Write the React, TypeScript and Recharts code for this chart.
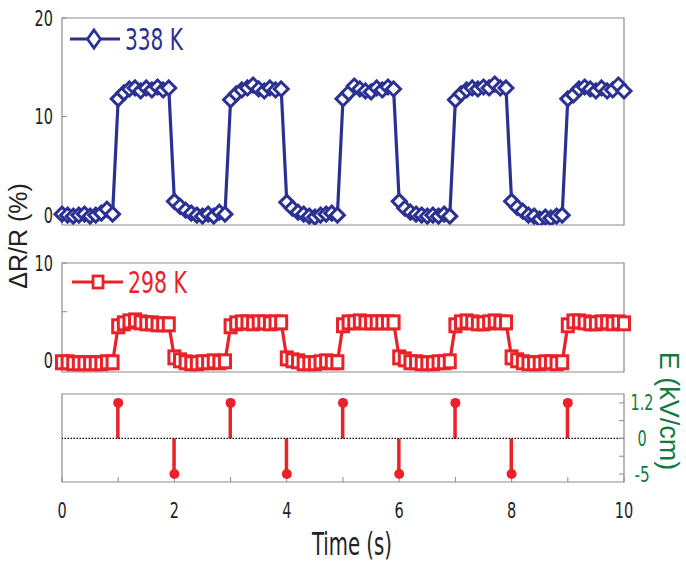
import React from 'react';
import {
  ComposedChart,
  Line,
  Bar,
  XAxis,
  YAxis,
  ReferenceArea,
  ReferenceLine,
  Legend,
} from 'recharts';

// ---------------- data ----------------
const timeS = [
  0, 0.1, 0.2, 0.3, 0.4, 0.5, 0.6, 0.7, 0.8, 0.9,
  1, 1.1, 1.2, 1.3, 1.4, 1.5, 1.6, 1.7, 1.8, 1.9,
  2, 2.1, 2.2, 2.3, 2.4, 2.5, 2.6, 2.7, 2.8, 2.9,
  3, 3.1, 3.2, 3.3, 3.4, 3.5, 3.6, 3.7, 3.8, 3.9,
  4, 4.1, 4.2, 4.3, 4.4, 4.5, 4.6, 4.7, 4.8, 4.9,
  5, 5.1, 5.2, 5.3, 5.4, 5.5, 5.6, 5.7, 5.8, 5.9,
  6, 6.1, 6.2, 6.3, 6.4, 6.5, 6.6, 6.7, 6.8, 6.9,
  7, 7.1, 7.2, 7.3, 7.4, 7.5, 7.6, 7.7, 7.8, 7.9,
  8, 8.1, 8.2, 8.3, 8.4, 8.5, 8.6, 8.7, 8.8, 8.9,
  9, 9.1, 9.2, 9.3, 9.4, 9.5, 9.6, 9.7, 9.8, 9.9, 10,
];

const dR338K = [
  0.1, 0.0, -0.1, 0.0, 0.1, -0.1, 0.0, 0.2, 0.6, 0.1,
  11.8, 12.4, 12.8, 12.9, 12.6, 12.9, 12.7, 13.0, 12.7, 12.9,
  1.4, 0.9, 0.5, 0.2, 0.0, -0.1, 0.1, -0.1, 0.3, 0.1,
  11.7, 12.3, 12.7, 12.9, 13.2, 12.8, 12.6, 12.9, 12.7, 12.8,
  1.3, 0.7, 0.3, 0.1, -0.1, -0.2, 0.0, 0.1, 0.2, 0.0,
  11.8, 12.4, 13.1, 12.8, 12.6, 12.5, 12.9, 12.7, 13.0, 12.8,
  1.4, 0.7, 0.3, 0.1, 0.0, -0.1, 0.0, -0.1, 0.1, -0.1,
  11.7, 12.3, 12.7, 12.9, 12.8, 13.0, 12.9, 13.3, 12.9, 12.9,
  1.4, 0.8, 0.4, 0.0, -0.1, -0.4, -0.2, -0.3, -0.1, 0.0,
  11.8, 12.2, 12.8, 13.0, 12.8, 12.6, 12.9, 12.6, 12.7, 13.2, 12.6,
];

const dR298K = [
  -0.2, -0.2, -0.3, -0.3, -0.3, -0.3, -0.3, -0.3, -0.2, -0.2,
  3.5, 3.8, 4.0, 4.1, 3.9, 3.8, 3.8, 3.7, 3.7, 3.7,
  0.3, 0.0, -0.2, -0.3, -0.3, -0.2, -0.2, -0.1, -0.2, -0.1,
  3.5, 3.8, 3.9, 3.9, 3.8, 3.9, 3.9, 3.8, 3.9, 3.9,
  0.2, 0.0, -0.1, -0.3, -0.3, -0.3, -0.2, -0.1, -0.2, -0.2,
  3.6, 3.9, 3.9, 4.0, 3.9, 3.9, 3.9, 3.9, 3.9, 3.9,
  0.3, 0.1, -0.2, -0.2, -0.3, -0.3, -0.3, -0.2, -0.2, -0.1,
  3.6, 3.9, 4.0, 3.9, 3.8, 3.8, 3.9, 4.0, 3.9, 3.9,
  0.3, 0.0, -0.2, -0.3, -0.3, -0.3, -0.2, -0.2, -0.3, -0.2,
  3.6, 4.0, 4.0, 3.9, 3.8, 3.8, 3.9, 3.9, 3.8, 3.9, 3.8,
];

const eTime = [1, 2, 3, 4, 5, 6, 7, 8, 9];
const eField = [1.2, -5, 1.2, -5, 1.2, -5, 1.2, -5, 1.2];

// E axis is drawn as a split axis: positive half spans 0..1.2, negative half spans 0..-5
const E_POS_MAX = 1.2;
const E_NEG_MAX = 5;

const xTicks = [0, 1, 2, 3, 4, 5, 6, 7, 8, 9, 10];
const topYTicks = [0, 10, 20];
const midYTicks = [0, 5, 10];
const eAxisTicks = [-1, -0.5, 0, 0.5, 1];
const eAxisLabels: Record<string, string> = { '-1': '-5', '-0.5': '', '0': '0', '0.5': '', '1': '1.2' };

const rows = timeS.map((t, i) => ({ t, k338: dR338K[i], k298: dR298K[i] }));
const eRows = eTime.map((t, i) => ({
  t,
  e: eField[i],
  eNorm: eField[i] >= 0 ? eField[i] / E_POS_MAX : eField[i] / E_NEG_MAX,
}));

// ---------------- styles ----------------
const NARROW = "'Liberation Sans Narrow', 'Arial Narrow', 'DejaVu Sans Condensed', sans-serif";
const REG = "'Liberation Sans', Arial, Helvetica, sans-serif";
const BLUE = '#2B3192';
const RED = '#EA2128';
const GREEN = '#137A3F';
const FRAME = '#8c8c8c';
const TXT = '#222';

// condensed tick label: glyph widths chosen to mimic a condensed face
const glyphW = (s: string) =>
  s.split('').reduce((a, c) => a + (c === '.' ? 4.5 : c === '-' ? 6 : 9.2), 0);

const makeTick = (fill: string, anchor: 'start' | 'middle' | 'end', fmt?: (v: any) => string) => (props: any) => {
  const { x, y, payload, verticalAnchor, index } = props;
  const label = fmt ? fmt(payload.value) : String(payload.value);
  if (!label) return <g key={`t${index}`} />;
  const dy = verticalAnchor === 'start' ? '0.72em' : '0.36em';
  return (
    <text
      key={`t${index}`}
      x={x}
      y={y}
      dy={dy}
      textAnchor={anchor}
      fontFamily={NARROW}
      fontSize={21}
      fill={fill}
      textLength={glyphW(label)}
      lengthAdjust="spacingAndGlyphs"
    >
      {label}
    </text>
  );
};

const Diamond = (props: any) => {
  const { cx, cy, index } = props;
  if (cx == null || cy == null) return <g key={`d${index}`} />;
  const h = 7;
  return (
    <path
      key={`d${index}`}
      d={`M${cx},${cy - h}L${cx + h},${cy}L${cx},${cy + h}L${cx - h},${cy}Z`}
      fill="#fff"
      stroke={BLUE}
      strokeWidth={3}
    />
  );
};

const Square = (props: any) => {
  const { cx, cy, index } = props;
  if (cx == null || cy == null) return <g key={`s${index}`} />;
  return (
    <rect key={`s${index}`} x={cx - 5.5} y={cy - 6.5} width={11} height={13} fill="#fff" stroke={RED} strokeWidth={3} />
  );
};

const LegendBlue = (props: any) => {
  const name = props?.payload?.[0]?.value ?? '338 K';
  return (
    <svg width={160} height={34} style={{ display: 'block' }}>
      <line x1={2} y1={17} x2={52} y2={17} stroke={BLUE} strokeWidth={3} />
      <path d="M26,8L32.5,17L26,26L19.5,17Z" fill="#fff" stroke={BLUE} strokeWidth={2.8} />
      <text x={57} y={28} fontFamily={NARROW} fontSize={30} fill={BLUE} textLength={58} lengthAdjust="spacingAndGlyphs">
        {name}
      </text>
    </svg>
  );
};

const LegendRed = (props: any) => {
  const name = props?.payload?.[0]?.value ?? '298 K';
  return (
    <svg width={160} height={34} style={{ display: 'block' }}>
      <line x1={2} y1={17} x2={53} y2={17} stroke={RED} strokeWidth={3} />
      <rect x={23} y={11} width={10} height={12} fill="#fff" stroke={RED} strokeWidth={2.8} />
      <text x={58} y={28} fontFamily={NARROW} fontSize={30} fill={RED} textLength={59} lengthAdjust="spacingAndGlyphs">
        {name}
      </text>
    </svg>
  );
};

const leftTick = makeTick(TXT, 'end');
const midTick = makeTick(TXT, 'end', (v: number) => (v === 5 ? '' : String(v)));
const bottomTick = makeTick(TXT, 'middle', (v: number) => (v % 2 === 0 ? String(v) : ''));
const eTick = makeTick(GREEN, 'middle', (v: number) => eAxisLabels[String(v)] ?? '');

export default function App() {
  return (
    <div style={{ position: 'absolute', left: 0, top: 0, width: 686, height: 565, background: '#fff' }}>
      {/* top panel: 338 K */}
      <div style={{ position: 'absolute', left: 0, top: 0 }}>
        <ComposedChart width={686} height={240} data={rows} margin={{ top: 18, right: 62, bottom: 0, left: 2 }}>
          <XAxis
            dataKey="t"
            type="number"
            domain={[0, 10]}
            ticks={xTicks}
            interval={0}
            height={15}
            tick={false}
            axisLine={false}
            tickSize={-5}
            tickLine={{ stroke: FRAME }}
          />
          <YAxis
            type="number"
            domain={[-1, 20]}
            ticks={topYTicks}
            interval={0}
            width={60}
            allowDataOverflow
            axisLine={false}
            tickSize={-5}
            tickMargin={14}
            tickLine={{ stroke: FRAME }}
            tick={leftTick}
          />
          <ReferenceArea x1={0} x2={10} y1={-1} y2={20} fill="none" stroke={FRAME} strokeWidth={1.2} />
          <Line
            dataKey="k338"
            name="338 K"
            type="linear"
            stroke={BLUE}
            strokeWidth={3.2}
            dot={Diamond}
            activeDot={false}
            isAnimationActive={false}
          />
          <Legend
            layout="vertical"
            verticalAlign="middle"
            align="center"
            wrapperStyle={{ top: 22, left: 68, width: 160, height: 34 }}
            content={LegendBlue}
          />
        </ComposedChart>
      </div>

      {/* middle panel: 298 K */}
      <div style={{ position: 'absolute', left: 0, top: 240 }}>
        <ComposedChart width={686} height={140} data={rows} margin={{ top: 23, right: 62, bottom: 0, left: 2 }}>
          <XAxis
            dataKey="t"
            type="number"
            domain={[0, 10]}
            ticks={xTicks}
            interval={0}
            height={8}
            tick={false}
            axisLine={false}
            tickSize={-5}
            tickLine={{ stroke: FRAME }}
          />
          <YAxis
            type="number"
            domain={[-1.2, 10]}
            ticks={midYTicks}
            interval={0}
            width={60}
            allowDataOverflow
            axisLine={false}
            tickSize={-5}
            tickMargin={14}
            tickLine={{ stroke: FRAME }}
            tick={midTick}
          />
          <ReferenceArea x1={0} x2={10} y1={-1.2} y2={10} fill="none" stroke={FRAME} strokeWidth={1.2} />
          <Line
            dataKey="k298"
            name="298 K"
            type="linear"
            stroke={RED}
            strokeWidth={3.2}
            dot={Square}
            activeDot={false}
            isAnimationActive={false}
          />
          <Legend
            layout="vertical"
            verticalAlign="middle"
            align="center"
            wrapperStyle={{ top: 25, left: 70, width: 160, height: 34 }}
            content={LegendRed}
          />
        </ComposedChart>
      </div>

      {/* bottom panel: E field */}
      <div style={{ position: 'absolute', left: 0, top: 380 }}>
        <ComposedChart width={686} height={185} data={eRows} margin={{ top: 14, right: 0, bottom: 0, left: 62 }}>
          <XAxis
            dataKey="t"
            type="number"
            domain={[0, 10]}
            ticks={xTicks}
            interval={0}
            height={83}
            axisLine={false}
            tickSize={-5}
            tickMargin={26}
            tickLine={{ stroke: FRAME }}
            tick={bottomTick}
          />
          <YAxis
            orientation="right"
            type="number"
            domain={[-1.225, 1.25]}
            ticks={eAxisTicks}
            interval={0}
            width={62}
            allowDataOverflow
            axisLine={false}
            tickSize={-5}
            tickMargin={23}
            tickLine={{ stroke: FRAME }}
            tick={eTick}
          />
          <ReferenceArea x1={0} x2={10} y1={-1.225} y2={1.25} fill="none" stroke={FRAME} strokeWidth={1.2} />
          <ReferenceLine y={0} stroke="#000" strokeWidth={1.2} strokeDasharray="1.5 1.5" />
          <Bar dataKey="eNorm" barSize={3.5} fill={RED} isAnimationActive={false} />
          <Line
            dataKey="eNorm"
            type="linear"
            stroke="none"
            dot={{ r: 5, fill: RED, stroke: RED, strokeWidth: 0 }}
            activeDot={false}
            isAnimationActive={false}
          />
        </ComposedChart>
      </div>

      {/* axis titles */}
      <svg width={686} height={565} style={{ position: 'absolute', left: 0, top: 0, pointerEvents: 'none' }}>
        <text
          x={27}
          y={236}
          transform="rotate(-90 27 236)"
          textAnchor="middle"
          fontFamily={REG}
          fontSize={25}
          fill={TXT}
        >
          ΔR/R (%)
        </text>
        <text
          x={660}
          y={411}
          transform="rotate(90 660 411)"
          textAnchor="middle"
          fontFamily={REG}
          fontSize={27}
          fill={GREEN}
        >
          E (kV/cm)
        </text>
        <text
          x={352}
          y={555}
          textAnchor="middle"
          fontFamily={NARROW}
          fontSize={32}
          fill={TXT}
          textLength={80}
          lengthAdjust="spacingAndGlyphs"
        >
          Time (s)
        </text>
      </svg>
    </div>
  );
}
